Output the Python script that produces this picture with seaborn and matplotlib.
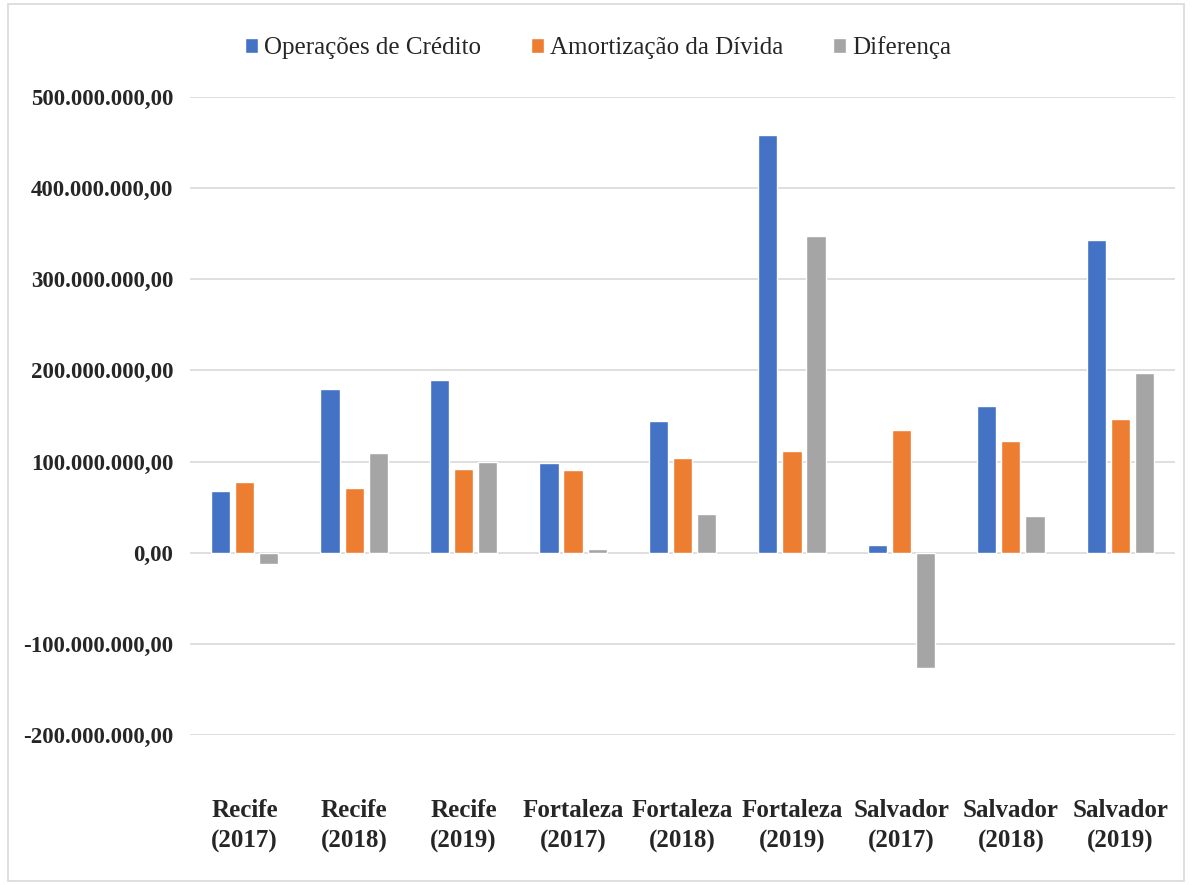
import matplotlib
matplotlib.use("Agg")
import matplotlib.pyplot as plt
import seaborn as sns
import pandas as pd
from matplotlib.ticker import FuncFormatter
from matplotlib.patches import Rectangle

categories = ["Recife\n(2017)", "Recife\n(2018)", "Recife\n(2019)",
              "Fortaleza\n(2017)", "Fortaleza\n(2018)", "Fortaleza\n(2019)",
              "Salvador\n(2017)", "Salvador\n(2018)", "Salvador\n(2019)"]
series_names = ["Operações de Crédito", "Amortização da Dívida", "Diferença"]
operacoes = [68e6, 180e6, 190e6, 98e6, 145e6, 458.5e6, 9e6, 161e6, 343e6]
amortizacao = [78e6, 71e6, 92e6, 91e6, 104e6, 112e6, 135e6, 123e6, 147e6]
diferenca = [-12e6, 109e6, 100e6, 4e6, 42e6, 347e6, -127e6, 40e6, 197e6]
colors = ["#4472C4", "#ED7D31", "#A5A5A5"]

rows = []
for i, c in enumerate(categories):
    for name, vals in zip(series_names, [operacoes, amortizacao, diferenca]):
        rows.append({"cat": c, "serie": name, "valor": vals[i]})
df = pd.DataFrame(rows)

sns.set_theme(style="white")
plt.rcParams['font.family'] = ['Liberation Serif', 'DejaVu Serif']

fig = plt.figure(figsize=(11.92, 8.85), dpi=100)
ax = fig.add_axes([190/1192, 1-735/885, (1175-190)/1192, (735-97)/885])

sns.barplot(data=df, x="cat", y="valor", hue="serie", hue_order=series_names,
            palette=colors, order=categories, width=0.66, gap=0.2,
            ax=ax, errorbar=None, saturation=1, zorder=3)

ax.set_ylim(-200e6, 500e6)
ax.set_yticks([i * 100e6 for i in range(-2, 6)])
def fmt(v, pos):
    s = f"{abs(v):,.2f}".replace(",", "X").replace(".", ",").replace("X", ".")
    return ("-" if v < 0 else "") + s
ax.yaxis.set_major_formatter(FuncFormatter(fmt))
ax.grid(axis="y", color="#D9D9D9", linewidth=1.2, zorder=0)
ax.set_axisbelow(True)
for s in ax.spines.values():
    s.set_visible(False)
ax.set_xlabel("")
ax.set_ylabel("")
ax.tick_params(axis="y", length=0, pad=12, labelsize=16.5)
ax.tick_params(axis="x", length=0, pad=46, labelsize=18)
for lab in ax.get_yticklabels() + ax.get_xticklabels():
    lab.set_fontweight("bold")
for lab in ax.get_xticklabels():
    lab.set_linespacing(1.4)
ax.set_xlim(-0.5, len(categories) - 0.5)

ax.legend(loc="center", bbox_to_anchor=(598/1192, (885-48)/885), bbox_transform=fig.transFigure,
          ncol=3, frameon=False, fontsize=18, handlelength=0.5, handleheight=0.55,
          handletextpad=0.25, columnspacing=2.0)

fig.patches.append(Rectangle((8/1192, 0.005), 1 - 16/1192, 0.99, transform=fig.transFigure,
                             fill=False, edgecolor="#D9D9D9", linewidth=1.2))
fig.savefig("out.png", dpi=100, facecolor="white")
